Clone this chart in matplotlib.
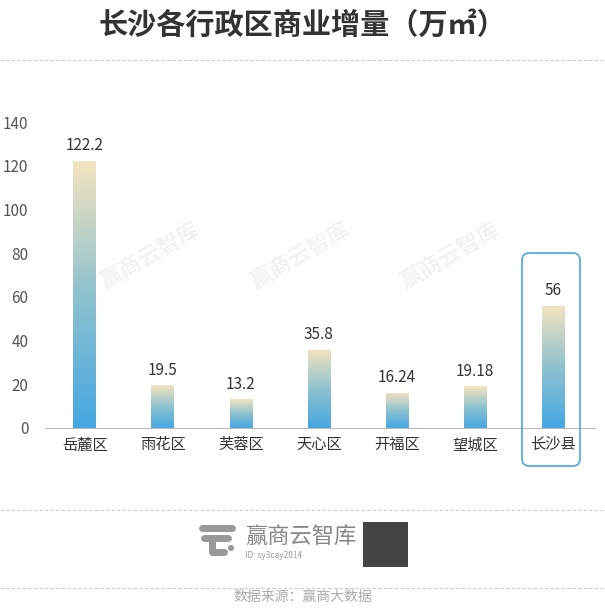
import matplotlib.pyplot as plt
import numpy as np
from matplotlib.patches import FancyBboxPatch, Rectangle, Circle
from matplotlib.colors import LinearSegmentedColormap

plt.rcParams['font.family'] = 'Noto Sans CJK SC'

districts = ['岳麓区', '雨花区', '芙蓉区', '天心区', '开福区', '望城区', '长沙县']
values = [122.2, 19.5, 13.2, 35.8, 16.24, 19.18, 56]
labels = ['122.2', '19.5', '13.2', '35.8', '16.24', '19.18', '56']

fig = plt.figure(figsize=(6.05, 6.12), dpi=100)
ax = fig.add_axes([45/605, 184/612, 550/605, 306/612])

cmap = LinearSegmentedColormap.from_list('g', ['#45a7e2', '#8fc2cf', '#f5e4bf'])
grad = np.linspace(0, 1, 256).reshape(-1, 1)
w = 0.29
for i, v in enumerate(values):
    im = ax.imshow(grad, cmap=cmap, aspect='auto', origin='lower',
                   extent=(i - w/2, i + w/2, 0, v), zorder=2)
    r = Rectangle((i - w/2, 0), w, v, transform=ax.transData, fill=False, lw=0)
    ax.add_patch(r)
    im.set_clip_path(r)
    ax.text(i, v + 3, labels[i], ha='center', va='bottom', fontsize=11, color='#333333')

ax.set_xlim(-0.51, 6.54)
ax.set_ylim(0, 140)
ax.set_yticks(range(0, 141, 20))
ax.set_xticks(range(len(districts)))
ax.set_xticklabels(districts, fontsize=11, color='#333333')
ax.tick_params(axis='y', length=0, labelsize=11, labelcolor='#555555', pad=12)
ax.tick_params(axis='x', length=0, pad=6)
for s in ['top', 'right', 'left']:
    ax.spines[s].set_visible(False)
ax.spines['bottom'].set_color('#bbbbbb')

# highlight box
fig.patches.append(FancyBboxPatch((522/605, 146/612), 58/605, 213/612,
                   boxstyle='round,pad=0,rounding_size=0.012', transform=fig.transFigure,
                   fill=False, ec='#4aa8e0', lw=1.2))

fig.text(0.5, 1 - 25/612, '长沙各行政区商业增量（万㎡）', ha='center', va='center',
         fontsize=21, fontweight='bold', color='#333333')
for yy in [60, 510, 588]:
    fig.add_artist(plt.Line2D([0, 1], [1 - yy/612] * 2, transform=fig.transFigure,
                              color='#cccccc', lw=0.8, ls=(0, (3, 2))))
for a in range(3):
    fig.text((150 + a * 150) / 605, 1 - 255/612, '赢商云智库', rotation=30, ha='center',
             va='center', fontsize=16, color='#000000', alpha=0.05, fontweight='bold')

# logo
fx = lambda x: x / 605
fy = lambda y: 1 - y / 612
fig.add_artist(plt.Line2D([fx(202), fx(232)], [fy(528)] * 2, transform=fig.transFigure, color='#999999', lw=5, solid_capstyle='round'))
fig.add_artist(plt.Line2D([fx(204), fx(228)], [fy(538)] * 2, transform=fig.transFigure, color='#999999', lw=5, solid_capstyle='round'))
fig.add_artist(plt.Line2D([fx(212), fx(212), fx(224)], [fy(538), fy(552), fy(552)], transform=fig.transFigure, color='#999999', lw=5, solid_capstyle='round'))
fig.add_artist(Circle((fx(231), fy(548)), 3/605, transform=fig.transFigure, fc='#999999', ec='none'))

fig.text(245/605, 1 - 537/612, '赢商云智库', fontsize=16, color='#888888', va='center')
fig.text(245/605, 1 - 555/612, 'ID: sy3cay2014', fontsize=6, color='#999999', va='center')
fig.add_artist(Rectangle((363/605, 1 - 567/612), 45/605, 45/612, transform=fig.transFigure,
                         fc='#444444', ec='none'))
fig.text(0.5, 1 - 597/612, '数据来源：赢商大数据', ha='center', va='center', fontsize=10, color='#aaaaaa')

fig.savefig('out.png', dpi=100)
